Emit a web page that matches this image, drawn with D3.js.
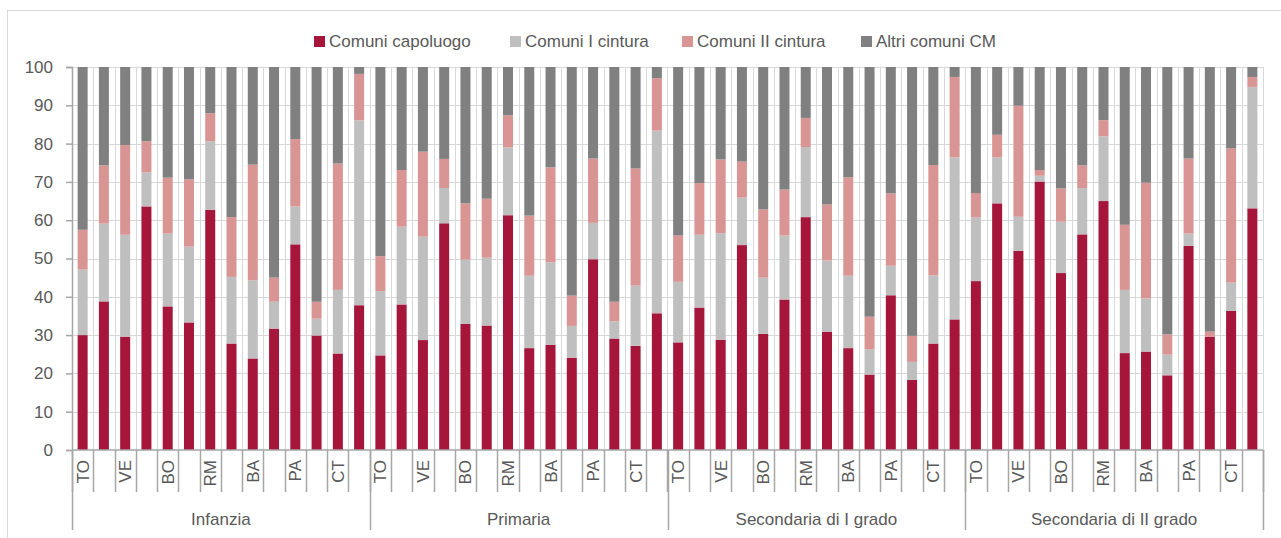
<!DOCTYPE html>
<html>
<head>
<meta charset="utf-8">
<script src="https://cdn.jsdelivr.net/npm/d3@7"></script>
<style>
  body { margin: 0; background: #fff; }
  svg { display: block; font-family: "Liberation Sans", Arial, sans-serif; }
</style>
</head>
<body>
<div id="chart"></div>
<script>
// categories
const levels = ["Infanzia", "Primaria", "Secondaria di I grado", "Secondaria di II grado"];
const cities = ["TO", "MI", "VE", "GE", "BO", "FI", "RM", "NA", "BA", "RC", "PA", "ME", "CT", "CA"];
const seriesNames = ["Comuni capoluogo", "Comuni I cintura", "Comuni II cintura", "Altri comuni CM"];
const seriesColors = ["#a6163a", "#bfbfbf", "#d99594", "#808080"];
const yTicks = [0, 10, 20, 30, 40, 50, 60, 70, 80, 90, 100];

// values (%), one entry per level x city, in order of levels then cities
const capoluogo = [
  30.0, 38.8, 29.6, 63.6, 37.5, 33.3, 62.7, 27.8, 23.9, 31.7, 53.7, 29.9, 25.2, 37.8,
  24.7, 38.0, 28.7, 59.2, 32.9, 32.5, 61.3, 26.6, 27.5, 24.1, 49.8, 29.1, 27.2, 35.7,
  28.1, 37.2, 28.8, 53.5, 30.3, 39.3, 60.8, 30.9, 26.6, 19.7, 40.4, 18.3, 27.8, 34.1,
  44.1, 64.4, 52.0, 70.1, 46.2, 56.3, 65.0, 25.3, 25.7, 19.5, 53.3, 29.6, 36.3, 63.1
];
const primaCintura = [
  17.1, 20.3, 26.6, 8.9, 19.0, 19.8, 17.9, 17.4, 20.4, 7.0, 9.9, 4.4, 16.6, 48.3,
  16.8, 20.3, 27.0, 9.2, 16.8, 17.7, 17.7, 18.9, 21.5, 8.3, 9.5, 4.5, 15.7, 47.7,
  15.8, 19.0, 27.8, 12.4, 14.7, 16.7, 18.3, 18.6, 18.9, 6.6, 7.7, 4.7, 17.8, 42.3,
  16.6, 12.0, 8.9, 1.5, 13.4, 12.1, 16.9, 16.5, 13.9, 5.4, 3.2, 0.0, 7.4, 31.7
];
const secondaCintura = [
  10.4, 15.2, 23.4, 8.1, 14.6, 17.6, 7.3, 15.6, 30.2, 6.3, 17.6, 4.4, 33.0, 12.1,
  9.1, 14.8, 22.2, 7.6, 14.7, 15.4, 8.4, 15.7, 24.8, 7.9, 16.8, 5.1, 30.6, 13.7,
  12.1, 13.5, 19.3, 9.4, 17.8, 12.0, 7.6, 14.6, 25.7, 8.5, 18.9, 6.8, 28.8, 21.0,
  6.4, 5.9, 29.0, 1.5, 8.7, 5.9, 4.2, 17.0, 30.2, 5.3, 19.6, 1.3, 35.1, 2.6
];
const altriComuni = [
  42.5, 25.7, 20.4, 19.4, 28.9, 29.3, 12.1, 39.2, 25.5, 55.0, 18.8, 61.3, 25.2, 1.8,
  49.4, 26.9, 22.1, 24.0, 35.6, 34.4, 12.6, 38.8, 26.2, 59.7, 23.9, 61.3, 26.5, 2.9,
  44.0, 30.3, 24.1, 24.7, 37.2, 32.0, 13.3, 35.9, 28.8, 65.2, 33.0, 70.2, 25.6, 2.6,
  32.9, 17.7, 10.1, 26.9, 31.7, 25.7, 13.9, 41.2, 30.2, 69.8, 23.9, 69.1, 21.2, 2.6
];

const width = 1281, height = 538;
const margin = {top: 67, right: 18, bottom: 88, left: 72};

// table for d3.stack
const rows = [];
levels.forEach((lv, li) => cities.forEach((c, ci) => {
  const k = li * cities.length + ci;
  rows.push({
    level: lv, city: c,
    [seriesNames[0]]: capoluogo[k],
    [seriesNames[1]]: primaCintura[k],
    [seriesNames[2]]: secondaCintura[k],
    [seriesNames[3]]: altriComuni[k]
  });
}));

const stacked = d3.stack().keys(seriesNames)(rows);

const x0 = d3.scaleBand()
  .domain(levels)
  .range([margin.left, width - margin.right])
  .padding(0);

const x1 = d3.scaleBand()
  .domain(cities)
  .range([0, x0.bandwidth()])
  .paddingInner(0.53)
  .paddingOuter(0.265);

const y = d3.scaleLinear()
  .domain([0, 100])
  .range([height - margin.bottom, margin.top]);

const color = d3.scaleOrdinal().domain(seriesNames).range(seriesColors);

const half = (x1.step() - x1.bandwidth()) / 2;
const boundary = (lv, c) => x0(lv) + x1(c) - half;

const svg = d3.create("svg")
  .attr("width", width)
  .attr("height", height);

svg.append("rect")
  .attr("width", width).attr("height", height)
  .attr("fill", "#fff");

// chart frame
svg.append("rect")
  .attr("x", 7.5).attr("y", 10.5)
  .attr("width", width + 20).attr("height", height + 20)
  .attr("fill", "none")
  .attr("stroke", "#d9d9d9");

// horizontal grid
svg.append("g")
  .selectAll("line")
  .data(yTicks.filter(d => d > 0))
  .join("line")
    .attr("x1", margin.left).attr("x2", width - margin.right)
    .attr("y1", d => Math.round(y(d)) + 0.5).attr("y2", d => Math.round(y(d)) + 0.5)
    .attr("stroke", "#d9d9d9");

// vertical grid at category boundaries
const bounds = [];
levels.forEach(lv => cities.forEach(c => bounds.push(boundary(lv, c))));
bounds.push(width - margin.right);

svg.append("g")
  .selectAll("line")
  .data(bounds.slice(1))
  .join("line")
    .attr("x1", d => Math.round(d) + 0.5).attr("x2", d => Math.round(d) + 0.5)
    .attr("y1", y(100)).attr("y2", y(0))
    .attr("stroke", "#d9d9d9");

// bars
svg.append("g")
  .selectAll("g")
  .data(stacked)
  .join("g")
    .attr("fill", d => color(d.key))
  .selectAll("rect")
  .data(d => d)
  .join("rect")
    .attr("x", d => x0(d.data.level) + x1(d.data.city))
    .attr("width", x1.bandwidth())
    .attr("y", d => y(d[1]))
    .attr("height", d => Math.max(0, y(d[0]) - y(d[1])));

// y axis
const yAxis = svg.append("g")
  .attr("transform", `translate(${margin.left},0)`)
  .call(d3.axisLeft(y).tickValues(yTicks).tickSize(6).tickPadding(13));
yAxis.select(".domain").attr("stroke", "#a6a6a6").attr("stroke-width", 1.5);
yAxis.selectAll(".tick line").attr("stroke", "#a6a6a6").attr("stroke-width", 1.5);
yAxis.selectAll("text")
  .attr("font-size", 17)
  .attr("fill", "#595959")
  .attr("font-family", "'Liberation Sans', Arial, sans-serif");

// x axis base line
svg.append("line")
  .attr("x1", margin.left).attr("x2", width - margin.right)
  .attr("y1", y(0)).attr("y2", y(0))
  .attr("stroke", "#a6a6a6").attr("stroke-width", 1.5);

// city tick lines
svg.append("g")
  .selectAll("line")
  .data(bounds)
  .join("line")
    .attr("x1", d => Math.round(d) + 0.5).attr("x2", d => Math.round(d) + 0.5)
    .attr("y1", y(0)).attr("y2", 492)
    .attr("stroke", "#a6a6a6").attr("stroke-width", 1.5);

// level separators
const sepX = levels.map(lv => x0(lv)).concat([width - margin.right]);
svg.append("g")
  .selectAll("line")
  .data(sepX)
  .join("line")
    .attr("x1", d => Math.round(d) + 0.5).attr("x2", d => Math.round(d) + 0.5)
    .attr("y1", y(0)).attr("y2", 530)
    .attr("stroke", "#a6a6a6").attr("stroke-width", 1.5);

// city labels (every other one, rotated)
svg.append("g")
  .selectAll("text")
  .data(rows.filter((d, i) => i % 2 === 0))
  .join("text")
    .attr("transform", d => `translate(${x0(d.level) + x1(d.city) + x1.bandwidth() / 2 + 6},460) rotate(-90)`)
    .attr("text-anchor", "end")
    .attr("font-size", 17)
    .attr("fill", "#595959")
    .text(d => d.city);

// level labels
svg.append("g")
  .selectAll("text")
  .data(levels)
  .join("text")
    .attr("x", d => x0(d) + x0.bandwidth() / 2)
    .attr("y", 525)
    .attr("text-anchor", "middle")
    .attr("font-size", 17)
    .attr("fill", "#595959")
    .text(d => d);

// legend
const legendX = [314, 510, 682, 861];
const legend = svg.append("g")
  .selectAll("g")
  .data(seriesNames)
  .join("g")
    .attr("transform", (d, i) => `translate(${legendX[i]},36)`);
legend.append("rect")
  .attr("width", 11).attr("height", 11)
  .attr("fill", d => color(d));
legend.append("text")
  .attr("x", 15).attr("y", 11)
  .attr("font-size", 17)
  .attr("fill", "#595959")
  .text(d => d);

document.getElementById("chart").appendChild(svg.node());
</script>
</body>
</html>
